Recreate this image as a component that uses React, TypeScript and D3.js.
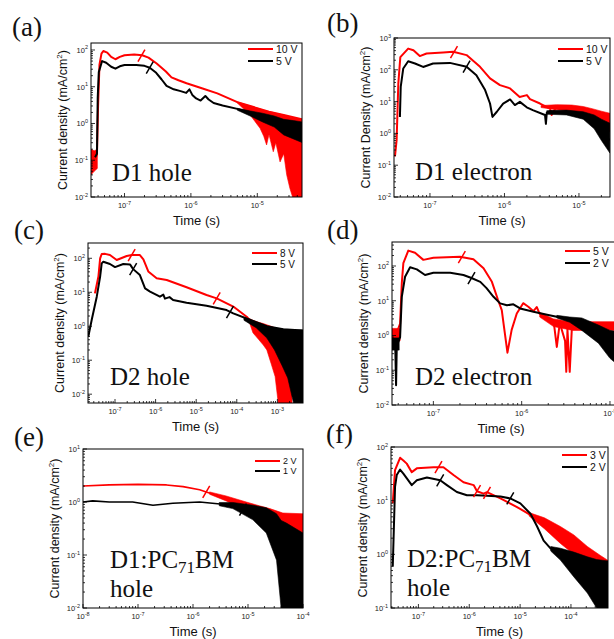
import React from 'react';
import * as d3 from 'd3';

type Pt = [number, number];
type Band = [number, number, number];

// (a) D1 hole
const aRed: Pt[] = [[3.2e-8, 0.08], [3.6e-8, 0.1], [3.85e-8, 0.15], [4.0e-8, 3], [4.2e-8, 40], [4.5e-8, 80], [4.8e-8, 94], [5.5e-8, 85], [6.3e-8, 65], [7.3e-8, 56], [8.5e-8, 65], [1.0e-7, 72], [1.4e-7, 75], [1.85e-7, 72], [2.3e-7, 62], [3.05e-7, 43], [4.2e-7, 26], [5.1e-7, 18], [6.5e-7, 15], [8.6e-7, 12.5], [1.5e-6, 9.0], [2.5e-6, 6.6], [5e-6, 3.8], [8.8e-6, 2.8], [1.5e-5, 2.1], [2.5e-5, 1.7], [4.8e-5, 1.3]];
const aRedBand: Band[][] = [
  [[3.13e-8, 0.04, 0.2], [3.5e-8, 0.05, 0.18], [3.9e-8, 0.06, 0.2]],
  [[5e-6, 3.6, 3.9], [7.8e-6, 1.7, 3.0], [1.1e-5, 0.74, 2.5], [1.25e-5, 0.45, 2.3], [1.38e-5, 0.26, 2.2], [1.5e-5, 0.5, 2.1], [1.74e-5, 0.17, 2.0], [1.9e-5, 0.3, 1.9], [2.2e-5, 0.09, 1.8], [2.5e-5, 0.15, 1.7], [2.77e-5, 0.04, 1.6], [3.1e-5, 0.017, 1.5], [3.4e-5, 0.005, 1.45], [4.8e-5, 0.005, 1.3]],
];
const aBlack: Pt[] = [[3.6e-8, 0.12], [3.85e-8, 0.15], [3.95e-8, 5], [4.1e-8, 25], [4.6e-8, 50], [5.3e-8, 45], [6.3e-8, 35], [7.3e-8, 31], [8.5e-8, 36], [1.0e-7, 39], [1.5e-7, 39], [2.0e-7, 37], [2.4e-7, 33], [3.0e-7, 24], [3.6e-7, 16], [4.3e-7, 10.5], [5.5e-7, 8.5], [7e-7, 7.6], [8.5e-7, 6.8], [9.5e-7, 8.5], [1.05e-6, 6], [1.2e-6, 4.8], [1.4e-6, 4.2], [1.65e-6, 5.6], [1.85e-6, 4.5], [2.2e-6, 3.6], [3e-6, 3.1], [5e-6, 2.5], [9e-6, 1.9], [1.7e-5, 1.3], [3e-5, 0.9], [4.8e-5, 0.75]];
const aBlackBand: Band[][] = [
  [[5e-6, 2.3, 2.6], [7.8e-6, 1.6, 2.2], [1.2e-5, 1.1, 1.9], [1.8e-5, 0.8, 1.6], [2.5e-5, 0.49, 1.3], [3.5e-5, 0.38, 1.2], [4.8e-5, 0.3, 1.1]],
];
const aRedMarks: Pt[] = [[1.8e-7, 70]];
const aBlackMarks: Pt[] = [[2.4e-7, 33]];

// (b) D1 electron
const bRed: Pt[] = [[3.39e-8, 0.19], [3.57e-8, 0.63], [3.76e-8, 37], [4.0e-8, 250], [5.1e-8, 465], [6.0e-8, 410], [7.3e-8, 270], [9.0e-8, 325], [1.5e-7, 350], [2.05e-7, 370], [3.1e-7, 290], [4.7e-7, 124], [6.4e-7, 54], [8.7e-7, 33], [1.19e-6, 26], [1.6e-6, 14], [2.0e-6, 16], [2.2e-6, 12], [3.0e-6, 8.7], [4.1e-6, 6], [4.3e-6, 3.8], [5.0e-6, 7], [6.8e-6, 7], [1.14e-5, 5.4], [1.73e-5, 3.3], [2.6e-5, 2.0]];
const bRedBand: Band[][] = [
  [[3.1e-6, 6.5, 7.5], [5e-6, 5.5, 8.0], [8e-6, 5, 7.8], [1.14e-5, 4, 7.0], [1.5e-5, 2.8, 6], [2e-5, 1.8, 5], [2.6e-5, 1.1, 4.3]],
];
const bBlack: Pt[] = [[3.95e-8, 3.3], [4.05e-8, 29], [4.38e-8, 110], [5.1e-8, 186], [6.3e-8, 158], [8.1e-8, 123], [1.1e-7, 158], [1.85e-7, 165], [3.1e-7, 125], [4.2e-7, 67], [5.5e-7, 23], [6.4e-7, 8.7], [6.9e-7, 3.3], [7.9e-7, 4.8], [9.6e-7, 8.7], [1.19e-6, 11.7], [1.38e-6, 7.8], [1.61e-6, 9.8], [1.99e-6, 6.6], [2.4e-6, 5.4], [3.5e-6, 3.8], [3.6e-6, 2.0], [3.7e-6, 4.5], [4.1e-6, 5.0], [6.8e-6, 4.6], [1.14e-5, 3.7], [1.73e-5, 1.8], [2.6e-5, 0.6]];
const bBlackBand: Band[][] = [
  [[3.7e-6, 4.0, 5.2], [6.8e-6, 3.8, 5.4], [1.14e-5, 2.8, 4.8], [1.6e-5, 1.4, 3.8], [2.0e-5, 0.6, 2.8], [2.6e-5, 0.24, 2.1]],
];
const bRedMarks: Pt[] = [[2.1e-7, 360]];
const bBlackMarks: Pt[] = [[3.1e-7, 125]];

// (c) D2 hole
const cRed: Pt[] = [[3.2e-8, 9.3], [3.9e-8, 29], [4.3e-8, 100], [4.7e-8, 134], [5.7e-8, 135], [7.5e-8, 125], [1.1e-7, 89], [1.94e-7, 117], [2.6e-7, 125], [4.1e-7, 125], [5.0e-7, 93], [6.6e-7, 41], [1.06e-6, 26], [1.88e-6, 23], [5.8e-6, 14], [1.8e-5, 8.3], [3.2e-5, 6.6], [8.2e-5, 3.8], [1.75e-4, 1.9], [2.5e-4, 1.2]];
const cRedBand: Band[][] = [
  [[2.0e-4, 1.4, 1.7], [2.5e-4, 0.64, 1.5], [3.5e-4, 0.4, 1.3], [4.5e-4, 0.28, 1.2], [5.5e-4, 0.2, 1.1], [7e-4, 0.08, 1.0], [8.8e-4, 0.033, 0.9], [1.05e-3, 0.005, 0.8], [2.3e-3, 0.005, 0.5]],
];
const cBlack: Pt[] = [[2.2e-8, 0.5], [2.67e-8, 1.55], [3.55e-8, 7.4], [4.3e-8, 29], [4.7e-8, 71], [5.15e-8, 79], [7.5e-8, 68], [1.0e-7, 55], [1.6e-7, 68], [2.34e-7, 66], [2.8e-7, 48], [4.1e-7, 32], [5.5e-7, 13], [7.3e-7, 10.5], [1.28e-6, 7.4], [1.55e-6, 8.5], [1.7e-6, 6.5], [2.2e-6, 7.2], [2.7e-6, 5.9], [5.8e-6, 4.9], [1.8e-5, 4.0], [5.6e-5, 3.0], [8.2e-5, 2.4], [2.1e-4, 1.55], [5.5e-4, 1.0], [1.4e-3, 0.82], [4.2e-3, 0.75]];
const cBlackBand: Band[][] = [
  [[1.5e-4, 1.5, 1.8], [3e-4, 0.9, 1.3], [5.5e-4, 0.45, 1.0], [8.5e-4, 0.2, 0.9], [1.3e-3, 0.07, 0.82], [1.8e-3, 0.03, 0.8], [2.5e-3, 0.005, 0.78], [4.3e-3, 0.005, 0.78]],
];
const cRedMarks: Pt[] = [[2.57e-7, 125], [3.2e-5, 6.6]];
const cBlackMarks: Pt[] = [[2.8e-7, 48], [6.8e-5, 2.6]];

// (d) D2 electron
const dRed: Pt[] = [[3.43e-8, 1.2], [3.8e-8, 1.1], [4.2e-8, 2.2], [4.39e-8, 32], [4.57e-8, 120], [5.2e-8, 277], [6.2e-8, 240], [7.7e-8, 150], [1e-7, 173], [2.0e-7, 185], [2.84e-7, 156], [3.7e-7, 86], [4.6e-7, 35], [5.4e-7, 10.5], [5.95e-7, 5.4], [6.3e-7, 1.8], [6.9e-7, 0.32], [7.7e-7, 1.45], [8.8e-7, 4.3], [1.04e-6, 8.5], [1.19e-6, 6.7], [1.36e-6, 5.0], [1.48e-6, 6.6], [1.6e-6, 4.2], [1.92e-6, 3.4], [2.3e-6, 2.6], [2.5e-6, 0.47], [2.7e-6, 2.3], [3.1e-6, 0.7], [3.2e-6, 0.09], [3.3e-6, 1.5], [3.5e-6, 0.09], [3.7e-6, 1.6], [3.85e-6, 2.0], [5e-6, 2.0], [1.2e-5, 2.0]];
const dRedBand: Band[][] = [
  [[3.4e-8, 0.7, 1.6], [4.2e-8, 0.7, 1.6]],
  [[1.6e-6, 3.4, 4.6], [2.3e-6, 1.8, 3.0], [3.8e-6, 1.4, 2.5], [1.2e-5, 1.4, 2.5]],
];
const dBlack: Pt[] = [[3.43e-8, 0.55], [3.7e-8, 0.5], [3.78e-8, 0.037], [3.85e-8, 0.5], [4.2e-8, 0.9], [4.39e-8, 13], [4.78e-8, 49], [5.45e-8, 92], [6.5e-8, 80], [8.05e-8, 55], [1e-7, 64], [1.55e-7, 64], [2.19e-7, 55], [2.7e-7, 45], [3.4e-7, 35], [4.0e-7, 23], [4.8e-7, 13], [5.7e-7, 8.4], [6.8e-7, 7.4], [8.05e-7, 7.9], [9.6e-7, 6], [1.36e-6, 4.8], [2.0e-6, 3.9], [3.1e-6, 3.1], [5e-6, 2.1], [7.4e-6, 1.1], [1.0e-5, 0.55], [1.2e-5, 0.45]];
const dBlackBand: Band[][] = [
  [[3.4e-8, 0.38, 0.85], [4.1e-8, 0.38, 0.85]],
  [[2.5e-6, 3.2, 3.8], [3.5e-6, 2.4, 3.4], [4.8e-6, 1.4, 3.2], [7.4e-6, 0.6, 2.0], [1.0e-5, 0.22, 1.4], [1.2e-5, 0.15, 1.3]],
];
const dRedMarks: Pt[] = [[2.1e-7, 180]];
const dBlackMarks: Pt[] = [[2.7e-7, 45]];

// (e) D1:PC71BM hole
const eRed: Pt[] = [[1e-8, 2.0], [3e-8, 2.1], [1e-7, 2.15], [3.3e-7, 2.1], [6.6e-7, 1.95], [1.32e-6, 1.7], [1.74e-6, 1.55], [4e-6, 1.17], [9.3e-6, 0.88], [2.15e-5, 0.6], [4.3e-5, 0.49], [1e-4, 0.46]];
const eRedBand: Band[][] = [
  [[2e-6, 1.4, 1.55], [4e-6, 1.05, 1.3], [9.3e-6, 0.7, 1.0], [1.6e-5, 0.5, 0.85], [2.5e-5, 0.36, 0.75], [4.3e-5, 0.25, 0.62], [1e-4, 0.22, 0.6]],
];
const eBlack: Pt[] = [[1e-8, 1.0], [1.5e-8, 1.05], [3e-8, 1.0], [8e-8, 1.0], [1.87e-7, 0.87], [4.3e-7, 0.95], [1.32e-6, 1.0], [5.3e-6, 0.87], [8.1e-6, 0.72], [1.23e-5, 0.65], [2.15e-5, 0.46], [3.3e-5, 0.26], [4.3e-5, 0.11], [5.7e-5, 0.05], [7e-5, 0.01]];
const eBlackBand: Band[][] = [
  [[3e-6, 0.85, 0.98], [5.3e-6, 0.75, 0.98], [1.23e-5, 0.46, 0.87], [2.15e-5, 0.26, 0.78], [3.3e-5, 0.08, 0.6], [4e-5, 0.01, 0.45], [5e-5, 0.01, 0.4], [1e-4, 0.01, 0.26]],
];
const eRedMarks: Pt[] = [[1.74e-6, 1.55]];
const eBlackMarks: Pt[] = [[8.1e-6, 0.72]];

// (f) D2:PC71BM hole
const fRed: Pt[] = [[3.13e-8, 8.9], [3.47e-8, 37], [4.36e-8, 63], [5.06e-8, 56], [5.9e-8, 49], [7.4e-8, 34], [9.3e-8, 40], [1.98e-7, 42], [3.1e-7, 42], [4.9e-7, 30], [7.7e-7, 22], [1.22e-6, 19.5], [1.42e-6, 15], [1.91e-6, 13.5], [2.23e-6, 14.4], [4.1e-6, 11], [8.7e-6, 7.6], [1.85e-5, 5], [4.0e-5, 3.3], [8.5e-5, 1.96], [1.8e-4, 1.2], [3.8e-4, 0.78], [5.6e-4, 0.68]];
const fRedBand: Band[][] = [
  [[1.5e-5, 5.2, 6.0], [3e-5, 3, 4.8], [6.2e-5, 1.6, 3.3], [1.14e-4, 1.0, 2.3], [2.1e-4, 0.7, 1.4], [3.8e-4, 0.6, 0.95], [5.6e-4, 0.58, 0.75]],
];
const fBlack: Pt[] = [[3.13e-8, 0.59], [3.47e-8, 18], [3.75e-8, 30], [4.36e-8, 38], [5.06e-8, 32], [7.4e-8, 19.5], [9.3e-8, 24], [1.47e-7, 27], [2.68e-7, 24], [3.63e-7, 19.5], [5.7e-7, 14.5], [9.0e-7, 12.6], [1.42e-6, 12.6], [2.23e-6, 12.3], [4.1e-6, 12], [6.4e-6, 11], [1.01e-5, 8.9], [1.6e-5, 5.7], [2.16e-5, 3.3], [2.9e-5, 1.8], [4.0e-5, 1.28], [6.2e-5, 1.1], [1.14e-4, 0.9], [2.1e-4, 0.67], [3.8e-4, 0.57], [5.6e-4, 0.57]];
const fBlackBand: Band[][] = [
  [[4e-5, 1.15, 1.4], [6.2e-5, 0.78, 1.3], [1.14e-4, 0.38, 1.1], [2.1e-4, 0.19, 0.9], [3.2e-4, 0.1, 0.8], [5.6e-4, 0.1, 0.75]],
];
const fRedMarks: Pt[] = [[2.48e-7, 42], [1.42e-6, 15], [2.23e-6, 14]];
const fBlackMarks: Pt[] = [[2.68e-7, 24], [6.4e-6, 11]];

const panelLetters = ['(a)', '(b)', '(c)', '(d)', '(e)', '(f)'];
const legendRed = ['10 V', '10 V', '8 V', '5 V', '2 V', '3 V'];
const legendBlack = ['5 V', '5 V', '5 V', '2 V', '1 V', '2 V'];
const sampleNames = ['D1 hole', 'D1 electron', 'D2 hole', 'D2 electron', 'D1:PC', 'D2:PC'];
const yTitles = ['Current density', 'Current Density', 'Current density', 'Current density', 'Current density', 'Current density'];

const RED = '#ff0000';
const SANS = '"Liberation Sans", Arial, sans-serif';
const SERIF = '"Liberation Serif", "Times New Roman", serif';

interface PanelDef {
  box: [number, number, number, number]; // left, right, top, bottom
  xDom: [number, number];
  yDom: [number, number];
  red: Pt[]; redBand: Band[][]; black: Pt[]; blackBand: Band[][];
  redMarks: Pt[]; blackMarks: Pt[];
  letterAt: [number, number];
  legend: [number, number, number, number]; // x1, y of red, y of black, font size
  nameAt: [number, number];
  pcbm?: boolean;
  lw: number;
}

const panels: PanelDef[] = [
  { box: [91, 302, 43, 197], xDom: [3.13e-8, 4.71e-5], yDom: [1e-2, 155], red: aRed, redBand: aRedBand, black: aBlack, blackBand: aBlackBand, redMarks: aRedMarks, blackMarks: aBlackMarks, letterAt: [12, 36], legend: [248, 49, 61, 10.5], nameAt: [112, 181], lw: 2 },
  { box: [394, 610, 38, 197], xDom: [3.29e-8, 2.61e-5], yDom: [1e-2, 1e3], red: bRed, redBand: bRedBand, black: bBlack, blackBand: bBlackBand, redMarks: bRedMarks, blackMarks: bBlackMarks, letterAt: [327, 32], legend: [558, 49, 61, 10.5], nameAt: [415, 180], lw: 2 },
  { box: [88, 303, 243, 403], xDom: [2.16e-8, 4.28e-3], yDom: [5.5e-3, 282], red: cRed, redBand: cRedBand, black: cBlack, blackBand: cBlackBand, redMarks: cRedMarks, blackMarks: cBlackMarks, letterAt: [14, 239], legend: [252, 253, 264, 10], nameAt: [110, 385], lw: 2 },
  { box: [392, 616, 242, 405], xDom: [3.4e-8, 1.17e-5], yDom: [1e-2, 490], red: dRed, redBand: dRedBand, black: dBlack, blackBand: dBlackBand, redMarks: dRedMarks, blackMarks: dBlackMarks, letterAt: [327, 239], legend: [565, 251, 263, 10.5], nameAt: [415, 385], lw: 2 },
  { box: [83, 303, 449, 608], xDom: [1e-8, 1e-4], yDom: [1e-2, 10], red: eRed, redBand: eRedBand, black: eBlack, blackBand: eBlackBand, redMarks: eRedMarks, blackMarks: eBlackMarks, letterAt: [14, 446], legend: [255, 461, 471, 9], nameAt: [110, 568], pcbm: true, lw: 1.6 },
  { box: [391, 608, 447, 608], xDom: [2.89e-8, 5.35e-4], yDom: [0.1, 100], red: fRed, redBand: fRedBand, black: fBlack, blackBand: fBlackBand, redMarks: fRedMarks, blackMarks: fBlackMarks, letterAt: [326, 443], legend: [562, 455, 467, 10.5], nameAt: [407, 567], pcbm: true, lw: 2 },
];

const isDecade = (v: number) => Math.abs(Math.log10(v) - Math.round(Math.log10(v))) < 1e-6;

function Pow({ x, y, v, anchor }: { x: number; y: number; v: number; anchor: 'middle' | 'end' }) {
  const e = Math.round(Math.log10(v));
  return (
    <text x={x} y={y} textAnchor={anchor} fontFamily={SANS} fontSize={7.5} fill="#222">
      10<tspan fontSize={5.5} dy={-3.5}>{e}</tspan>
    </text>
  );
}

function Panel({ p, i }: { p: PanelDef; i: number }) {
  const [l, r, t, b] = p.box;
  const x = d3.scaleLog().domain(p.xDom).range([l, r]);
  const y = d3.scaleLog().domain(p.yDom).range([b, t]).clamp(true);
  const line = d3.line<Pt>().x(d => x(d[0])).y(d => y(d[1]));
  const area = d3.area<Band>().x(d => x(d[0])).y0(d => y(d[1])).y1(d => y(d[2]));
  const clipId = `clip${i}`;
  const xt = x.ticks();
  const yt = y.ticks();
  const cx = (l + Math.min(r, 610)) / 2;
  const cy = (t + b) / 2;
  const mark = (m: Pt, c: string, k: number) => {
    const mx = x(m[0]);
    const my = y(m[1]);
    return <line key={c + k} x1={mx - 3.5} y1={my + 6} x2={mx + 3.5} y2={my - 6} stroke={c} strokeWidth={1.5} />;
  };
  const [lx, ly1, ly2, lfs] = p.legend;
  return (
    <g>
      <clipPath id={clipId}><rect x={l} y={t} width={r - l} height={b - t} /></clipPath>
      <g clipPath={`url(#${clipId})`}>
        {p.redBand.map((s, k) => <path key={'rb' + k} d={area(s) || ''} fill={RED} stroke={RED} strokeWidth={0.6} />)}
        <path d={line(p.red) || ''} fill="none" stroke={RED} strokeWidth={p.lw} strokeLinejoin="round" />
        {p.blackBand.map((s, k) => <path key={'bb' + k} d={area(s) || ''} fill="#000" stroke="#000" strokeWidth={0.6} />)}
        <path d={line(p.black) || ''} fill="none" stroke="#000" strokeWidth={p.lw} strokeLinejoin="round" />
        {p.redMarks.map((m, k) => mark(m, RED, k))}
        {p.blackMarks.map((m, k) => mark(m, '#000', k))}
      </g>
      <rect x={l} y={t} width={r - l} height={b - t} fill="none" stroke="#000" strokeWidth={1} />
      {xt.map((v, k) => (
        <line key={'xt' + k} x1={x(v)} x2={x(v)} y1={b} y2={b - (isDecade(v) ? 4 : 2)} stroke="#000" strokeWidth={0.8} />
      ))}
      {yt.map((v, k) => (
        <line key={'yt' + k} x1={l} x2={l + (isDecade(v) ? 4 : 2)} y1={y(v)} y2={y(v)} stroke="#000" strokeWidth={0.8} />
      ))}
      {xt.filter(isDecade).map((v, k) => <Pow key={'xl' + k} x={x(v)} y={b + 11} v={v} anchor="middle" />)}
      {yt.filter(isDecade).map((v, k) => <Pow key={'yl' + k} x={l - 3} y={y(v) + 3} v={v} anchor="end" />)}
      <text x={cx} y={b + 28} textAnchor="middle" fontFamily={SANS} fontSize={13} fill="#111">Time (s)</text>
      <text transform={`translate(${l - 24},${cy}) rotate(-90)`} textAnchor="middle" fontFamily={SANS} fontSize={12.5} fill="#111">
        {yTitles[i]} (mA/cm<tspan fontSize={8} dy={-5}>2</tspan><tspan dy={5}>)</tspan>
      </text>
      <text x={p.letterAt[0]} y={p.letterAt[1]} fontFamily={SERIF} fontSize={27} fill="#111">{panelLetters[i]}</text>
      <line x1={lx} x2={lx + 25} y1={ly1} y2={ly1} stroke={RED} strokeWidth={2} />
      <line x1={lx} x2={lx + 25} y1={ly2} y2={ly2} stroke="#000" strokeWidth={2} />
      <text x={lx + 28} y={ly1 + lfs * 0.36} fontFamily={SANS} fontSize={lfs} fill="#111">{legendRed[i]}</text>
      <text x={lx + 28} y={ly2 + lfs * 0.36} fontFamily={SANS} fontSize={lfs} fill="#111">{legendBlack[i]}</text>
      {p.pcbm ? (
        <g fontFamily={SERIF} fontSize={25} fill="#111">
          <text x={p.nameAt[0]} y={p.nameAt[1]}>
            {sampleNames[i]}<tspan fontSize={17} dy={5}>71</tspan><tspan dy={-5}>BM</tspan>
          </text>
          <text x={p.nameAt[0]} y={p.nameAt[1] + 29}>hole</text>
        </g>
      ) : (
        <text x={p.nameAt[0]} y={p.nameAt[1]} fontFamily={SERIF} fontSize={25} fill="#111">{sampleNames[i]}</text>
      )}
    </g>
  );
}

export default function App() {
  return (
    <svg width={614} height={639} style={{ position: 'absolute', left: 0, top: 0, background: '#fff' }}>
      {panels.map((p, i) => <Panel key={i} p={p} i={i} />)}
    </svg>
  );
}
